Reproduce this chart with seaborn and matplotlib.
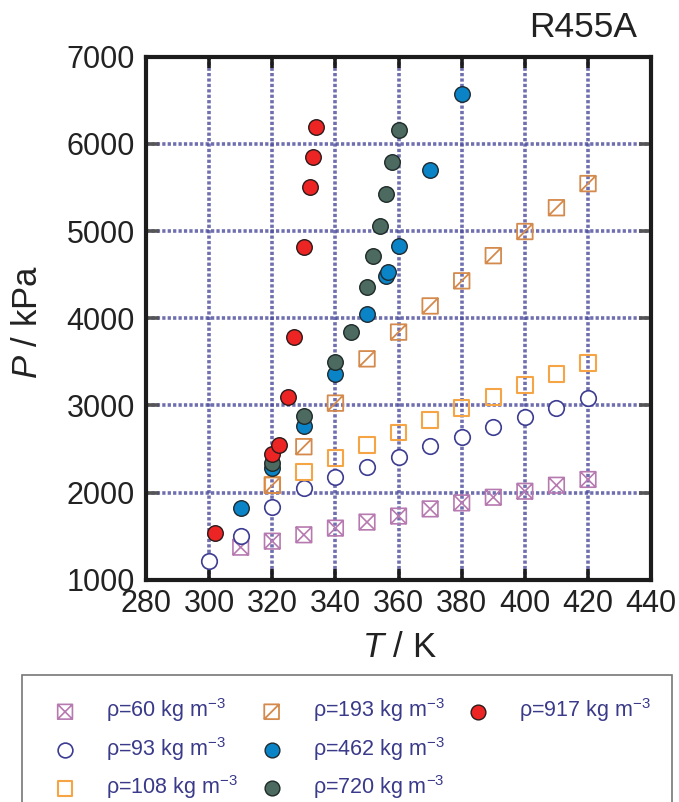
import matplotlib
matplotlib.use("Agg")
import matplotlib.pyplot as plt
import seaborn as sns
from matplotlib.path import Path
from matplotlib.lines import Line2D

# --- data (T in K, P in kPa) ---
T_60 = [310, 320, 330, 340, 350, 360, 370, 380, 390, 400, 410, 420]
P_60 = [1373, 1442, 1515, 1592, 1661, 1730, 1812, 1881, 1946, 2015, 2084, 2150]

T_93 = [300, 310, 320, 330, 340, 350, 360, 370, 380, 390, 400, 410, 420]
P_93 = [1219, 1500, 1834, 2053, 2180, 2296, 2411, 2534, 2642, 2753, 2862, 2969, 3081]

T_108 = [320, 330, 340, 350, 360, 370, 380, 390, 400, 410, 420]
P_108 = [2084, 2238, 2399, 2546, 2687, 2834, 2969, 3099, 3234, 3361, 3488]

T_193 = [320, 330, 340, 350, 360, 370, 380, 390, 400, 410, 420]
P_193 = [2084, 2526, 3026, 3534, 3841, 4141, 4429, 4718, 4995, 5268, 5545]

T_462 = [310, 320, 330, 340, 350, 356, 356.5, 360, 370, 380]
P_462 = [1827, 2277, 2768, 3365, 4045, 4487, 4526, 4833, 5698, 6571]

T_720 = [320, 330, 340, 345, 350, 352, 354, 356, 358, 360]
P_720 = [2334, 2873, 3495, 3841, 4364, 4710, 5064, 5429, 5787, 6156]

T_917 = [302, 320, 322, 325, 327, 330, 332, 333, 334]
P_917 = [1539, 2442, 2546, 3096, 3783, 4814, 5506, 5852, 6194]

x_ticks = [280, 300, 320, 340, 360, 380, 400, 420, 440]
y_ticks = [1000, 2000, 3000, 4000, 5000, 6000, 7000]

# custom markers: square with cross / square with one diagonal
M, L, C = Path.MOVETO, Path.LINETO, Path.CLOSEPOLY
sq_x = Path([(-1, -1), (1, -1), (1, 1), (-1, 1), (-1, -1),
             (-1, -1), (1, 1), (-1, 1), (1, -1)],
            [M, L, L, L, C, M, L, M, L])
sq_slash = Path([(-1, -1), (1, -1), (1, 1), (-1, 1), (-1, -1),
                 (-1, -1), (1, 1)],
                [M, L, L, L, C, M, L])

sns.set_style("white")
plt.rcParams['font.family'] = ['Liberation Sans', 'DejaVu Sans']
plt.rcParams['mathtext.fontset'] = 'custom'
plt.rcParams['mathtext.rm'] = 'Liberation Sans'
plt.rcParams['mathtext.it'] = 'Liberation Sans:italic'
plt.rcParams['mathtext.bf'] = 'Liberation Sans:bold'

fig = plt.figure(figsize=(6.79, 8.02), dpi=100)
ax = fig.add_axes([0.215, 0.2772, 0.744, 0.652])

S = 125
series = [
    (T_60, P_60, sq_x, 'none', '#b77ab0', 1.2, r'ρ=60 kg m$^{-3}$'),
    (T_93, P_93, 'o', 'white', '#3c3c92', 1.2, r'ρ=93 kg m$^{-3}$'),
    (T_108, P_108, 's', 'none', '#f5a545', 1.5, r'ρ=108 kg m$^{-3}$'),
    (T_193, P_193, sq_slash, 'none', '#d48a4c', 1.3, r'ρ=193 kg m$^{-3}$'),
    (T_462, P_462, 'o', '#0a84c6', '#1e2a30', 1.0, r'ρ=462 kg m$^{-3}$'),
    (T_720, P_720, 'o', '#4c6a60', '#1e2a28', 1.0, r'ρ=720 kg m$^{-3}$'),
    (T_917, P_917, 'o', '#ec2424', '#2a1a1a', 1.0, r'ρ=917 kg m$^{-3}$'),
]
for t, p, mk, fc, ec, lw, lab in series:
    sns.scatterplot(x=t, y=p, ax=ax, marker=mk, s=S, color=ec,
                    facecolor=fc, edgecolor=ec, linewidth=lw,
                    label=lab, zorder=3)

ax.set_xlim(280, 440)
ax.set_ylim(1000, 7000)
ax.set_xticks(x_ticks)
ax.set_yticks(y_ticks)
ax.grid(True, color='#4b4b9c', linestyle=(0, (0.9, 0.6)), linewidth=2.6, alpha=0.8)
ax.set_axisbelow(True)

for sp in ax.spines.values():
    sp.set_linewidth(3.0)
    sp.set_color('#1c1c1c')
    sp.set_visible(True)

ax.tick_params(axis='x', which='major', direction='in', top=True, bottom=True,
               length=8, width=2.6, color='#1c1c1c', labelsize=22, pad=7,
               labelcolor='#222222')
ax.tick_params(axis='y', which='major', direction='in', left=True, right=True,
               length=9, width=2.6, color='#555555', labelsize=22, pad=8,
               labelcolor='#222222')
ax.set_xlabel('')
ax.set_ylabel('')

fig.text(0.589, 0.1926, '$T$ / K', ha='center', va='center', fontsize=25,
         color='#222222')
fig.text(0.0405, 0.598, '$P$ / kPa', ha='center', va='center', fontsize=25,
         rotation=90, color='#222222')
fig.text(0.859, 0.966, 'R455A', ha='center', va='center', fontsize=25.5,
         color='#222222')

handles, labels = ax.get_legend_handles_labels()
ax.get_legend().remove()
blank = Line2D([], [], linestyle='none', marker=None)
handles = handles + [blank, blank]
labels = labels + ['', '']
leg = fig.legend(handles, labels, ncol=3, loc='upper left',
                 bbox_to_anchor=(0.0324, -0.03, 0.958, 0.1884), mode='expand',
                 borderaxespad=0, fontsize=15.5, frameon=True, fancybox=False,
                 edgecolor='#555555', handlelength=2.0, handletextpad=0.9,
                 labelspacing=0.48, borderpad=1.0, markerscale=0.95,
                 labelcolor='#3a3a8a')
leg.get_frame().set_linewidth(1.2)

fig.savefig('out.png', dpi=100)
